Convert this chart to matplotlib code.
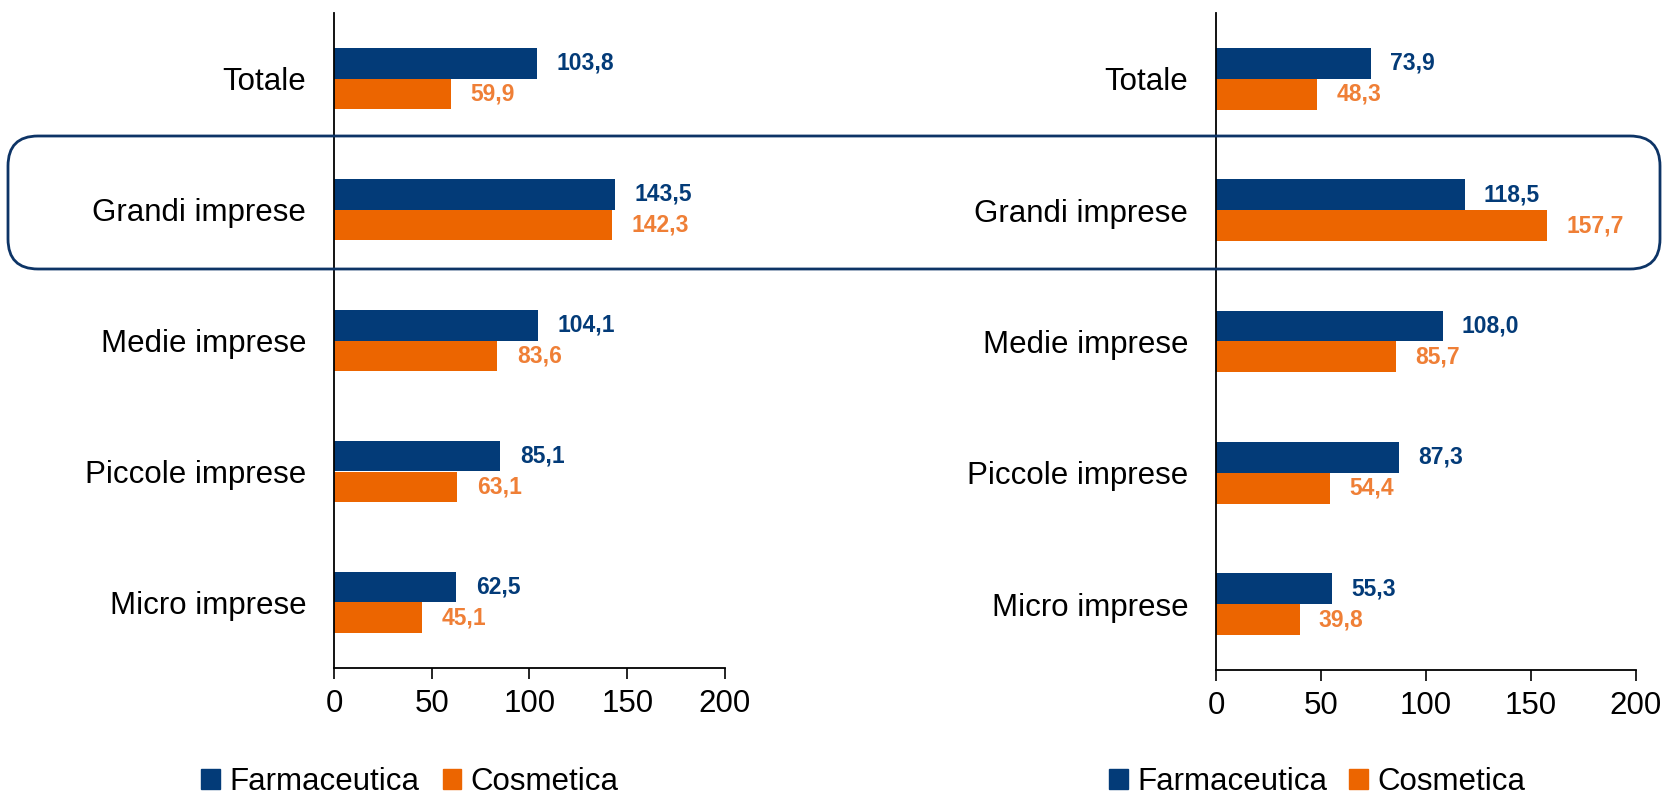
import matplotlib.pyplot as plt
from matplotlib.patches import FancyBboxPatch, Patch
import numpy as np

plt.rcParams["font.family"] = ["Liberation Sans", "DejaVu Sans"]

# --- Data ---
categories = ["Totale", "Grandi imprese", "Medie imprese", "Piccole imprese", "Micro imprese"]
series = ["Farmaceutica", "Cosmetica"]

left_farma = [103.8, 143.5, 104.1, 85.1, 62.5]
left_cosm = [59.9, 142.3, 83.6, 63.1, 45.1]
right_farma = [73.9, 118.5, 108.0, 87.3, 55.3]
right_cosm = [48.3, 157.7, 85.7, 54.4, 39.8]

xticks = [0, 50, 100, 150, 200]

BLUE = "#033b78"
ORANGE = "#ec6500"
ORANGE_TXT = "#ef7f36"

W, H = 1665, 795
fig = plt.figure(figsize=(W / 100, H / 100), dpi=100)


def panel(rect, farma, cosm, label_off):
    ax = fig.add_axes(rect)
    y = np.arange(len(categories))
    h = 0.235
    ax.barh(y - h / 2, farma, height=h, color=BLUE)
    ax.barh(y + h / 2, cosm, height=h, color=ORANGE)
    for yi, v in zip(y, farma):
        ax.text(v + label_off, yi - h / 2, f"{v:.1f}".replace(".", ","),
                color=BLUE, fontsize=16.5, fontweight="bold", va="center", ha="left")
    for yi, v in zip(y, cosm):
        ax.text(v + label_off, yi + h / 2, f"{v:.1f}".replace(".", ","),
                color=ORANGE_TXT, fontsize=16.5, fontweight="bold", va="center", ha="left")
    ax.set_ylim(len(categories) - 0.5, -0.5)
    ax.set_xlim(0, 200)
    ax.set_yticks(y)
    ax.set_yticklabels(categories, fontsize=22.5)
    ax.tick_params(axis="y", length=0, pad=20)
    ax.set_xticks(xticks)
    ax.tick_params(axis="x", labelsize=22.5, length=8, width=1.2, direction="out", pad=7)
    for s in ["top", "right"]:
        ax.spines[s].set_visible(False)
    for s in ["left", "bottom"]:
        ax.spines[s].set_linewidth(1.3)
    return ax


ax1 = panel([334 / W, 1 - 668 / H, (725 - 334) / W, (668 - 13) / H], left_farma, left_cosm, 10)
ax2 = panel([1216 / W, 1 - 670 / H, (1636 - 1216) / W, (670 - 13) / H], right_farma, right_cosm, 9)

# rounded highlight box around "Grandi imprese"
box = FancyBboxPatch((8 / 100, (H - 269) / 100), (1660 - 8) / 100, (269 - 136) / 100,
                     boxstyle="round,pad=0,rounding_size=0.3",
                     transform=fig.dpi_scale_trans, fill=False,
                     edgecolor="#0d3466", linewidth=2, zorder=10)
fig.patches.append(box)

handles = [Patch(color=BLUE, label=series[0]), Patch(color=ORANGE, label=series[1])]
for x0, cs in ((173 / W, 0.75), (1081 / W, 0.7)):
    fig.legend(handles=handles, loc="center left", bbox_to_anchor=(x0, 0.016),
               ncol=2, frameon=False, fontsize=22.5, handlelength=0.6, handleheight=0.6,
               handletextpad=0.3, columnspacing=cs)

fig.savefig("out.png", dpi=100)
